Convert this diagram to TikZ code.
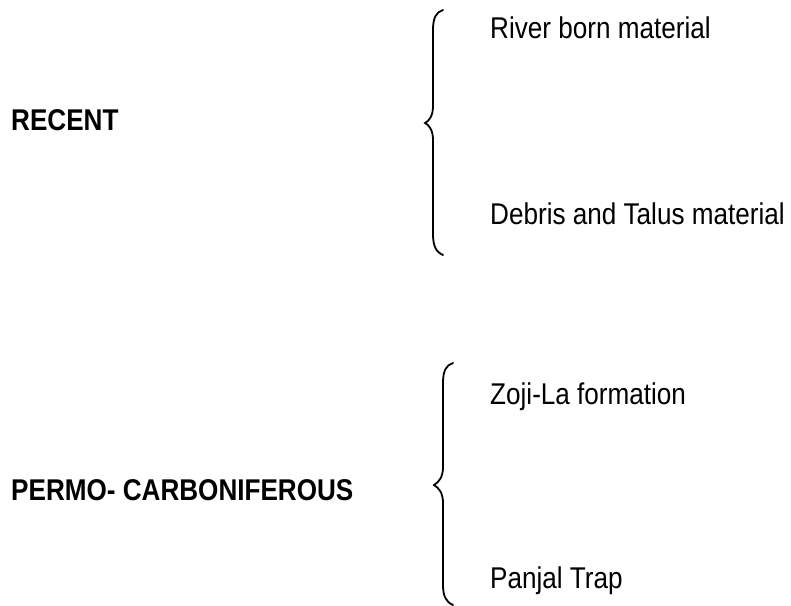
\documentclass[tikz,border=0pt]{standalone}
\usepackage{graphicx}
\usepackage{fontspec}
\setmainfont{Liberation Sans}
\newcommand{\sqz}[1]{\scalebox{0.87}[1]{#1}}
\begin{document}
\begin{tikzpicture}[x=1pt,y=-1pt,
  lbl/.style={anchor=base west,inner sep=0pt,font=\fontsize{30}{36}\selectfont},
  hdr/.style={lbl,font=\fontsize{30}{36}\selectfont\bfseries},
  brace/.style={line width=1.8pt,line cap=round}]
\useasboundingbox (0,0) rectangle (791,605);
\node[hdr] (recent) at (11,130) {\sqz{RECENT}};
\node[hdr] (permo) at (11,500) {\sqz{PERMO- CARBONIFEROUS}};
\node[lbl] (river) at (490,38) {\sqz{River born material}};
\node[lbl] (debris) at (490,224) {\sqz{Debris and Talus material}};
\node[lbl] (zoji) at (490,404) {\sqz{Zoji-La formation}};
\node[lbl] (panjal) at (490,588) {\sqz{Panjal Trap}};
% brace 1
\draw[brace] (443,10) .. controls (436,12) and (433,18) .. (433,30)
  -- (433,106) .. controls (433,116) and (429,121) .. (425,123)
  .. controls (429,125) and (433,130) .. (433,140)
  -- (433,234) .. controls (433,246) and (436,252) .. (443,255);
% brace 2
\draw[brace] (453,363) .. controls (446,365) and (443,371) .. (443,383)
  -- (443,467) .. controls (443,477) and (439,482) .. (434,485)
  .. controls (439,488) and (443,493) .. (443,503)
  -- (443,585) .. controls (443,596) and (446,602) .. (453,605);
\end{tikzpicture}
\end{document}
